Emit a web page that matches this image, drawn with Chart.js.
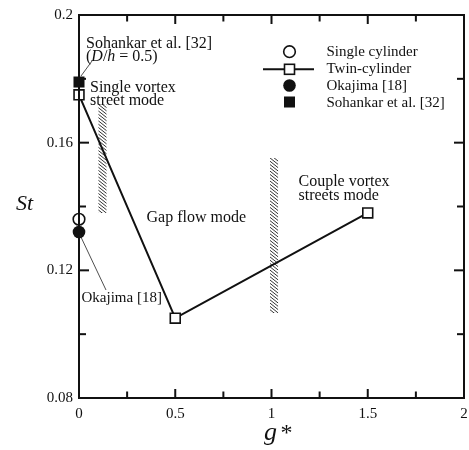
<!DOCTYPE html>
<html>
<head>
<meta charset="utf-8">
<script src="https://cdn.jsdelivr.net/npm/chart.js@4/dist/chart.umd.min.js"></script>
<style>
  html, body { margin: 0; padding: 0; background: #fff; }
  canvas { display: block; }
</style>
</head>
<body>
<canvas id="c" width="469" height="450"></canvas>
<script>
// ---- data ----
const twinG = [0, 0.5, 1.5];
const twinSt = [0.175, 0.105, 0.138];
const singleG = [0];
const singleSt = [0.136];
const okajimaG = [0];
const okajimaSt = [0.132];
const sohankarG = [0];
const sohankarSt = [0.179];

const xMajorTicks = [0, 0.5, 1, 1.5, 2];
const xMinorTicks = [0.25, 0.75, 1.25, 1.75];
const yMajorTicks = [0.08, 0.12, 0.16, 0.2];
const yMinorTicks = [0.1, 0.14, 0.18];

// transition bands between flow modes: [g0, g1, St0, St1]
const bandLeft = [0.100, 0.144, 0.138, 0.172];
const bandRight = [0.992, 1.035, 0.1066, 0.1552];

const legendLabels = ['Single cylinder', 'Twin-cylinder', 'Okajima [18]', 'Sohankar et al. [32]'];

const toPts = (xs, ys) => xs.map((x, i) => ({x: x, y: ys[i]}));

const SERIF = '"Liberation Serif", "Times New Roman", serif';

const decor = {
  id: 'decor',
  beforeDatasetsDraw(chart) {
    const ctx = chart.ctx;
    const xs = chart.scales.x, ys = chart.scales.y;
    [bandLeft, bandRight].forEach(b => {
      const x0 = xs.getPixelForValue(b[0]), x1 = xs.getPixelForValue(b[1]);
      const y0 = ys.getPixelForValue(b[3]), y1 = ys.getPixelForValue(b[2]);
      ctx.save();
      ctx.beginPath();
      ctx.rect(x0, y0, x1 - x0, y1 - y0);
      ctx.clip();
      ctx.strokeStyle = '#333';
      ctx.lineWidth = 1;
      const w = x1 - x0;
      for (let y = y0 - 10; y < y1 + 2; y += 3.3) {
        ctx.beginPath();
        ctx.moveTo(x0, y);
        ctx.lineTo(x1, y + w * 0.8);
        ctx.stroke();
      }
      ctx.restore();
    });
  },
  afterDatasetsDraw(chart) {
    const ctx = chart.ctx;
    const a = chart.chartArea;
    const xs = chart.scales.x, ys = chart.scales.y;
    ctx.save();
    // frame
    ctx.strokeStyle = '#111';
    ctx.lineWidth = 2;
    ctx.strokeRect(a.left, a.top, a.right - a.left, a.bottom - a.top);
    // inward ticks
    ctx.lineWidth = 2;
    const tick = (x1, y1, x2, y2) => { ctx.beginPath(); ctx.moveTo(x1, y1); ctx.lineTo(x2, y2); ctx.stroke(); };
    xMajorTicks.forEach(v => { const p = xs.getPixelForValue(v); tick(p, a.bottom, p, a.bottom - 9); tick(p, a.top, p, a.top + 9); });
    xMinorTicks.forEach(v => { const p = xs.getPixelForValue(v); tick(p, a.bottom, p, a.bottom - 6.5); tick(p, a.top, p, a.top + 6.5); });
    yMajorTicks.forEach(v => { const p = ys.getPixelForValue(v); tick(a.left, p, a.left + 10, p); tick(a.right, p, a.right - 10, p); });
    yMinorTicks.forEach(v => { const p = ys.getPixelForValue(v); tick(a.left, p, a.left + 7, p); tick(a.right, p, a.right - 7, p); });

    // annotations
    ctx.fillStyle = '#111';
    ctx.textBaseline = 'alphabetic';
    ctx.textAlign = 'left';
    ctx.font = '16px ' + SERIF;
    ctx.fillText('Sohankar et al. [32]', 86, 48);
    // (D/h = 0.5)
    let x = 86;
    const parts = [['(', false], ['D', true], ['/', false], ['h', true], [' = 0.5)', false]];
    parts.forEach(p => {
      ctx.font = (p[1] ? 'italic ' : '') + '16px ' + SERIF;
      ctx.fillText(p[0], x, 61);
      x += ctx.measureText(p[0]).width;
    });
    ctx.font = '16px ' + SERIF;
    ctx.fillText('Single vortex', 90, 92);
    ctx.fillText('street mode', 90, 104.5);
    ctx.fillText('Gap flow mode', 146.5, 222);
    ctx.fillText('Couple vortex', 298.5, 186);
    ctx.fillText('streets mode', 298.5, 199.5);
    ctx.font = '15px ' + SERIF;
    ctx.fillText('Okajima [18]', 81.5, 301.5);

    // leader lines
    ctx.lineWidth = 0.8;
    ctx.strokeStyle = '#222';
    tick(81, 76, 92, 61);
    tick(80, 235, 106, 290);

    // legend
    const lx = 289.5, tx = 326.5;
    const rowsY = [51.7, 69.3, 85.5, 102];
    const baseY = [55.5, 72.8, 90, 107];
    ctx.font = '15px ' + SERIF;
    legendLabels.forEach((t, i) => ctx.fillText(t, tx, baseY[i]));
    ctx.lineWidth = 1.6;
    ctx.strokeStyle = '#111';
    // single cylinder: open circle
    ctx.fillStyle = '#fff';
    ctx.beginPath(); ctx.arc(lx, rowsY[0], 5.8, 0, Math.PI * 2); ctx.fill(); ctx.stroke();
    // twin: line + open square
    ctx.lineWidth = 2;
    tick(263, rowsY[1], 314, rowsY[1]);
    ctx.lineWidth = 1.6;
    ctx.fillRect(lx - 5, rowsY[1] - 5, 10, 10);
    ctx.strokeRect(lx - 5, rowsY[1] - 5, 10, 10);
    // okajima: filled circle
    ctx.fillStyle = '#111';
    ctx.beginPath(); ctx.arc(lx, rowsY[2], 6.3, 0, Math.PI * 2); ctx.fill();
    // sohankar: filled square
    ctx.fillRect(lx - 5.5, rowsY[3] - 5.5, 11, 11);

    // axis titles
    ctx.fillStyle = '#111';
    ctx.font = 'italic 22px ' + SERIF;
    ctx.fillText('St', 16, 209.5);
    ctx.font = 'italic 26px ' + SERIF;
    ctx.fillText('g', 264, 440);
    ctx.font = '24px ' + SERIF;
    ctx.fillText('*', 280.5, 440);
    ctx.restore();
  }
};

new Chart(document.getElementById('c'), {
  type: 'scatter',
  data: {
    datasets: [
      {
        label: 'Twin-cylinder',
        data: toPts(twinG, twinSt),
        showLine: true,
        borderColor: '#111',
        borderWidth: 2,
        pointStyle: 'rect',
        pointRadius: 7,
        pointBorderWidth: 1.6,
        pointBackgroundColor: '#fff',
        pointBorderColor: '#111',
        clip: false
      },
      {
        label: 'Single cylinder',
        data: toPts(singleG, singleSt),
        pointStyle: 'circle',
        pointRadius: 5.8,
        pointBorderWidth: 1.6,
        pointBackgroundColor: '#fff',
        pointBorderColor: '#111',
        clip: false
      },
      {
        label: 'Okajima [18]',
        data: toPts(okajimaG, okajimaSt),
        pointStyle: 'circle',
        pointRadius: 6.3,
        pointBorderWidth: 0,
        pointBackgroundColor: '#111',
        pointBorderColor: '#111',
        clip: false
      },
      {
        label: 'Sohankar et al. [32]',
        data: toPts(sohankarG, sohankarSt),
        pointStyle: 'rect',
        pointRadius: 7.8,
        pointBorderWidth: 0,
        pointBackgroundColor: '#111',
        pointBorderColor: '#111',
        clip: false
      }
    ]
  },
  options: {
    responsive: false,
    animation: false,
    devicePixelRatio: 1,
    layout: { autoPadding: false, padding: { top: 15, right: 5, left: 0, bottom: 0 } },
    plugins: { legend: { display: false }, tooltip: { enabled: false } },
    scales: {
      x: {
        type: 'linear', min: 0, max: 2,
        afterBuildTicks: s => { s.ticks = xMajorTicks.map(v => ({value: v})); },
        afterFit: s => { s.height = 52; s.paddingLeft = 0; s.paddingRight = 0; },
        grid: { display: false, drawTicks: false },
        border: { display: false },
        ticks: {
          color: '#111', padding: 7,
          font: { family: SERIF, size: 15 },
          callback: v => String(Number(v.toFixed(2)))
        }
      },
      y: {
        type: 'linear', min: 0.08, max: 0.2,
        afterBuildTicks: s => { s.ticks = yMajorTicks.map(v => ({value: v})); },
        afterFit: s => { s.width = 79; s.paddingTop = 0; s.paddingBottom = 0; },
        grid: { display: false, drawTicks: false },
        border: { display: false },
        ticks: {
          color: '#111', padding: 6,
          font: { family: SERIF, size: 15 },
          callback: v => String(Number(v.toFixed(2)))
        }
      }
    }
  },
  plugins: [decor]
});
</script>
</body>
</html>
